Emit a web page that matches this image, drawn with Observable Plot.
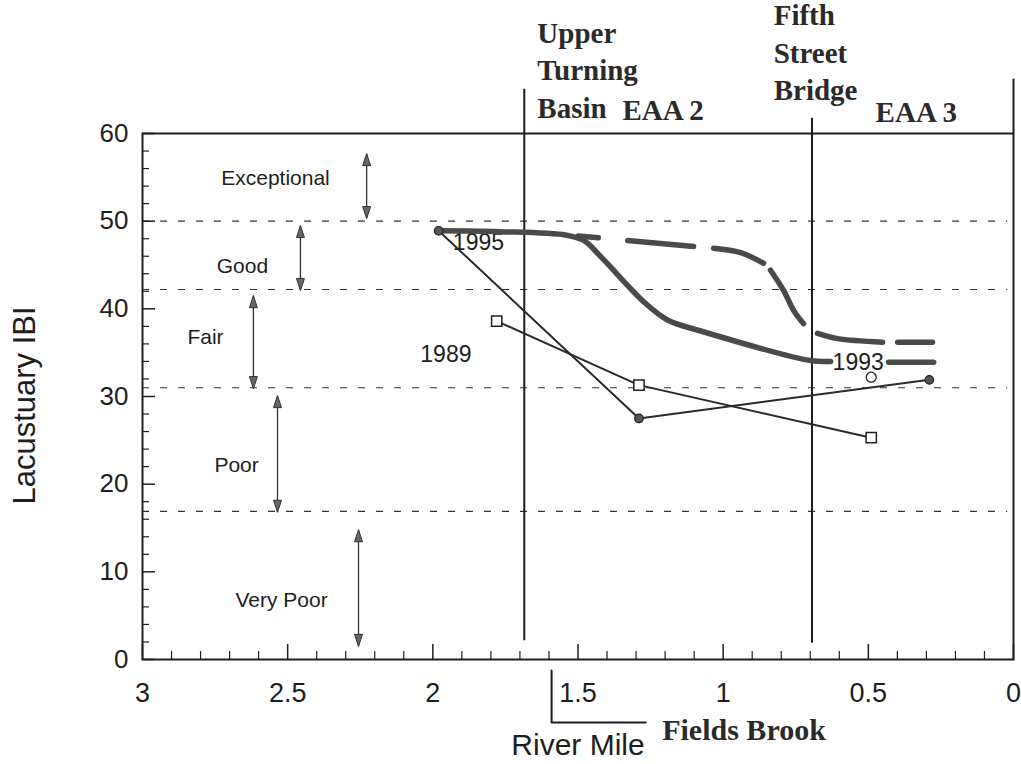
<!DOCTYPE html>
<html><head><meta charset="utf-8">
<script src="https://cdn.jsdelivr.net/npm/d3@7"></script>
<script src="https://cdn.jsdelivr.net/npm/@observablehq/plot@0.6"></script>
<style>body{margin:0;background:#fff;}</style>
</head><body><div id="chart"></div>
<script>
// ---- data ----
const xTicks = [3, 2.5, 2, 1.5, 1, 0.5, 0];
const yTicks = [0, 10, 20, 30, 40, 50, 60];
const classBreaks = [50, 42.2, 31, 16.9];
const classNames = ["Exceptional", "Good", "Fair", "Poor", "Very Poor"];
const classLabelMile = [2.542, 2.656, 2.783, 2.676, 2.521];
const classLabelIbi = [54.9, 44.9, 36.7, 22.2, 6.7];
const arrowMile = [2.228, 2.456, 2.618, 2.535, 2.256];
const arrowTop = [57.7, 49.5, 41.5, 30.1, 14.8];
const arrowBottom = [50.3, 42.1, 30.9, 16.8, 1.5];

const mile1989 = [1.78, 1.29, 0.49];
const ibi1989 = [38.6, 31.3, 25.3];
const mile1995 = [1.98, 1.29, 0.29];
const ibi1995 = [48.9, 27.5, 31.9];
const mileOpen = [0.49];
const ibiOpen = [32.2];

const solidMile  = [1.98, 1.77, 1.54, 1.48, 1.42, 1.27, 1.19, 1.08, 0.70, 0.63, 1.50, 1.43, 0.43, 0.275];
const solidIbi   = [48.9, 48.8, 48.4, 47.8, 45.9, 40.7, 38.7, 37.5, 34.1, 34.0, 48.3, 48.1, 33.9, 33.9];
const solidPiece = ["a","a","a","a","a","a","a","a","a","a","b","b","c","c"];

const dashMile  = [1.329, 1.102, 1.033, 0.94, 0.861, 0.837, 0.792, 0.757, 0.723, 0.675, 0.606, 0.451, 0.399, 0.279];
const dashIbi   = [47.8, 47.1, 46.9, 46.4, 45.2, 44.4, 42.1, 39.8, 38.3, 37.2, 36.6, 36.2, 36.2, 36.2];
const dashPiece = [1, 1, 2, 2, 2, 3, 3, 3, 3, 4, 4, 4, 5, 5];

const yearNames = ["1995", "1989", "1993"];
const yearMile = [1.843, 1.955, 0.535];
const yearIbi = [47.6, 34.8, 33.9];

const siteNames = ["Upper\nTurning\nBasin", "Fifth\nStreet\nBridge"];
const siteMile = [1.64, 0.826];
const siteIbi = [61.8, 63.8];
const siteLineMile = [1.685, 0.694];
const siteLineBottom = [2.2, 1.9];
const siteLineTop = [65.1, 61.8];
const reachNames = ["EAA 2", "EAA 3"];
const reachMile = [1.347, 0.475];
const reachIbi = [61.5, 61.3];
const brookName = ["Fields Brook"];
const brookMile = [1.21];
const brookBracketMile = [1.591, 1.591, 1.267];
const brookBracketIbi = [-1.25, -7.2, -7.2];
const frameTopExtension = [66.2];

// ---- tables built from the arrays ----
const zip = (a, b, c) => a.map((v, i) => ({x: v, y: b[i], z: c ? c[i] : 0}));
const s1989 = zip(mile1989, ibi1989);
const s1995 = zip(mile1995, ibi1995);
const sOpen = zip(mileOpen, ibiOpen);
const sSolid = zip(solidMile, solidIbi, solidPiece);
const sDash = zip(dashMile, dashIbi, dashPiece);
const classes = classNames.map((n, i) => ({n, x: classLabelMile[i], y: classLabelIbi[i]}));
const arrows = arrowMile.map((x, i) => ({x, y1: arrowBottom[i], y2: arrowTop[i]}));
const years = yearNames.map((n, i) => ({n, x: yearMile[i], y: yearIbi[i]}));
const sites = siteNames.map((n, i) => ({n, x: siteMile[i], y: siteIbi[i]}));
const siteLines = siteLineMile.map((x, i) => ({x, y1: siteLineBottom[i], y2: siteLineTop[i]}));
const reaches = reachNames.map((n, i) => ({n, x: reachMile[i], y: reachIbi[i]}));
const bracket = zip(brookBracketMile, brookBracketIbi);

const xMinor = d3.range(0, 31).map(i => i / 10).filter(v => Math.abs(v * 2 - Math.round(v * 2)) > 1e-6);
const yMinor = d3.range(0, 61, 2).filter(v => v % 10 !== 0);

const W = 1021, H = 764, mL = 142, mR = 8, mT = 133, mB = 105;
const innerW = W - mL - mR, innerH = H - mT - mB;
const sans = "Liberation Sans, Arial, sans-serif";
const serif = "Liberation Serif, Times New Roman, serif";
const ink = "#1e1e1e";

const headUp = {draw(c) { c.moveTo(0, 0); c.lineTo(-4, 12); c.lineTo(4, 12); c.closePath(); }};
const headDown = {draw(c) { c.moveTo(0, 0); c.lineTo(-4, -12); c.lineTo(4, -12); c.closePath(); }};

const chart = Plot.plot({
  width: W, height: H,
  marginLeft: mL, marginRight: mR, marginTop: mT, marginBottom: mB,
  style: {background: "#fff", color: ink},
  x: {domain: [3, 0], label: null},
  y: {domain: [0, 60], label: null},
  marks: [
    Plot.ruleY(classBreaks, {x1: 3, x2: 0.02, stroke: "#333", strokeWidth: 1.1, strokeDasharray: "7,11"}),
    Plot.frame({stroke: ink, strokeWidth: 2}),
    Plot.ruleX([0], {y1: 60, y2: frameTopExtension[0], stroke: ink, strokeWidth: 2}),
    Plot.tickX(xTicks, {x: d => d, insetTop: innerH - 15, stroke: ink, strokeWidth: 1.5}),
    Plot.tickX(xMinor, {x: d => d, insetTop: innerH - 8, stroke: ink, strokeWidth: 1.2}),
    Plot.tickY(yTicks, {y: d => d, insetRight: innerW - 13, stroke: ink, strokeWidth: 1.5}),
    Plot.tickY(yMinor, {y: d => d, insetRight: innerW - 7, stroke: ink, strokeWidth: 1.2}),
    Plot.axisY(yTicks, {tickSize: 0, tickPadding: 14, fontSize: 26, fontFamily: sans, tickFormat: d => `${d}`, label: null}),
    Plot.axisX(xTicks, {tickSize: 0, tickPadding: 23, fontSize: 27, fontFamily: sans, tickFormat: d => `${d}`, label: null}),
    Plot.text(["Lacustuary IBI"], {frameAnchor: "left", textAnchor: "middle", lineAnchor: "middle", dx: -117, dy: 9, rotate: -90, fontSize: 31, fontFamily: sans, fill: ink}),
    Plot.text(["River Mile"], {frameAnchor: "bottom", textAnchor: "middle", lineAnchor: "middle", dy: 86, fontSize: 30, fontFamily: sans, fill: ink}),
    // site lines & labels
    Plot.link(siteLines, {x1: "x", x2: "x", y1: "y1", y2: "y2", stroke: ink, strokeWidth: 2}),
    Plot.text(sites, {x: "x", y: "y", text: "n", textAnchor: "start", lineAnchor: "bottom", lineHeight: 1.29, fontSize: 29, fontWeight: "bold", fontFamily: serif, fill: "#2a2a2a"}),
    Plot.text(reaches, {x: "x", y: "y", text: "n", textAnchor: "start", lineAnchor: "bottom", fontSize: 29, fontWeight: "bold", fontFamily: serif, fill: "#2a2a2a"}),
    Plot.line(bracket, {x: "x", y: "y", stroke: ink, strokeWidth: 2}),
    Plot.text(brookName, {x: brookMile[0], y: 0, dy: 71, text: d => d, textAnchor: "start", fontSize: 30, fontWeight: "bold", fontFamily: serif, fill: "#2a2a2a"}),
    // condition classes
    Plot.text(classes, {x: "x", y: "y", text: "n", fontSize: 21, fontFamily: sans, fill: ink}),
    Plot.link(arrows, {x1: "x", x2: "x", y1: "y1", y2: "y2", stroke: "#333", strokeWidth: 1.3}),
    Plot.dot(arrows, {x: "x", y: "y2", symbol: headUp, fill: "#666", stroke: "#333", strokeWidth: 1}),
    Plot.dot(arrows, {x: "x", y: "y1", symbol: headDown, fill: "#666", stroke: "#333", strokeWidth: 1}),
    // year labels
    Plot.text(years, {x: "x", y: "y", text: "n", fontSize: 23, fontFamily: sans, fill: ink}),
    // hand-drawn thick lines
    Plot.line(sSolid, {x: "x", y: "y", z: "z", curve: "catmull-rom", stroke: "#4a4a4a", strokeWidth: 5.5, strokeLinecap: "round"}),
    Plot.line(sDash, {x: "x", y: "y", z: "z", curve: "catmull-rom", stroke: "#4a4a4a", strokeWidth: 5.5, strokeLinecap: "round"}),
    // data series
    Plot.line(s1995, {x: "x", y: "y", stroke: "#2a2a2a", strokeWidth: 2}),
    Plot.line(s1989, {x: "x", y: "y", stroke: "#2a2a2a", strokeWidth: 2}),
    Plot.dot(s1995, {x: "x", y: "y", r: 4.3, fill: "#555", stroke: "#222", strokeWidth: 1.2}),
    Plot.dot(s1989, {x: "x", y: "y", symbol: "square", r: 5.8, fill: "#fff", stroke: "#222", strokeWidth: 1.5}),
    Plot.dot(sOpen, {x: "x", y: "y", r: 5, fill: "#fff", stroke: "#222", strokeWidth: 1.3})
  ]
});
document.getElementById("chart").appendChild(chart);
</script>
</body></html>
